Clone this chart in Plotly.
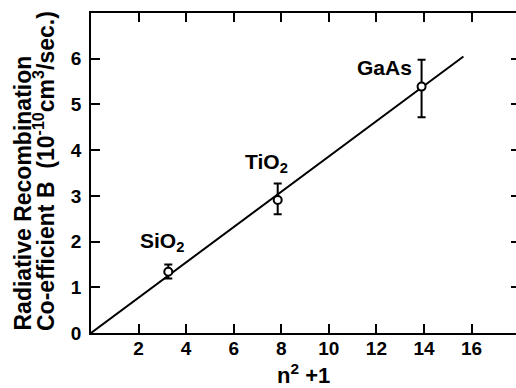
import plotly.graph_objects as go

# Data
materials = ["SiO<sub>2</sub>", "TiO<sub>2</sub>", "GaAs"]
n2_plus_1 = [3.25, 7.85, 13.9]
coeff_b = [1.34, 2.91, 5.39]
err_top = [1.50, 3.27, 5.98]
err_bottom = [1.19, 2.60, 4.72]

fit_x = [0, 15.66]
fit_y = [0, 6.05]

x_ticks = [2, 4, 6, 8, 10, 12, 14, 16]
y_ticks = [0, 1, 2, 3, 4, 5, 6]

label_x = [3.0, 7.4, 12.35]
label_y = [2.0, 3.72, 5.8]

FONT = "Liberation Sans, Arial, Helvetica, sans-serif"

err_plus = [t - v for t, v in zip(err_top, coeff_b)]
err_minus = [v - b for v, b in zip(coeff_b, err_bottom)]

fig = go.Figure()
fig.add_trace(go.Scatter(
    x=fit_x, y=fit_y, mode="lines",
    line=dict(color="black", width=2), showlegend=False, hoverinfo="skip"))
fig.add_trace(go.Scatter(
    x=n2_plus_1, y=coeff_b, mode="markers",
    marker=dict(symbol="circle", size=8, color="white",
                line=dict(color="black", width=2)),
    error_y=dict(type="data", array=err_plus, arrayminus=err_minus,
                 color="black", thickness=2, width=4),
    showlegend=False))
# dummy trace for right-side ticks
fig.add_trace(go.Scatter(x=[None], y=[None], yaxis="y2", showlegend=False))

for name, lx, ly in zip(materials, label_x, label_y):
    fig.add_annotation(x=lx, y=ly, text=name, showarrow=False,
                       font=dict(family=FONT, size=21, color="black", weight="bold"),
                       xanchor="center", yanchor="middle")

# y-axis title (two lines, both starting at the bottom of the axis)
fig.add_annotation(xref="paper", yref="paper", x=(22 - 91) / 425, y=0,
                   text="Radiative Recombination", textangle=-90, showarrow=False,
                   font=dict(family=FONT, size=23, color="black", weight="bold"),
                   xanchor="center", yanchor="bottom")
fig.add_annotation(xref="paper", yref="paper", x=(44 - 91) / 425, y=0,
                   text="Co-efficient B  (10<sup>-10</sup>cm<sup>3</sup>/sec.)",
                   textangle=-90, showarrow=False,
                   font=dict(family=FONT, size=23, color="black", weight="bold"),
                   xanchor="center", yanchor="bottom")
# x-axis title
fig.add_annotation(xref="paper", yref="paper", x=(303 - 91) / 425, y=-(374 - 333) / 320,
                   text="n<sup>2</sup> +1", showarrow=False,
                   font=dict(family=FONT, size=22, color="black", weight="bold"),
                   xanchor="center", yanchor="middle")

tickfont = dict(family=FONT, size=19, color="black", weight="bold")
fig.update_layout(
    width=516, height=388,
    margin=dict(l=91, r=0, t=13, b=55),
    paper_bgcolor="white", plot_bgcolor="white",
    xaxis=dict(range=[0, 17.87], tickvals=x_ticks, ticks="inside", ticklen=9,
               tickwidth=1.5, tickcolor="black", showline=True, linecolor="black",
               linewidth=1.5, mirror="ticks", showgrid=False, zeroline=False,
               tickfont=tickfont, ticklabelstandoff=-3),
    yaxis=dict(range=[0, 7], tickvals=y_ticks, ticks="inside", ticklen=9,
               tickwidth=1.5, tickcolor="black", showline=True, linecolor="black",
               linewidth=1.5, mirror=False, showgrid=False, zeroline=False,
               tickfont=tickfont, ticklabelstandoff=4),
    yaxis2=dict(range=[0, 7], tickvals=y_ticks[1:], ticks="inside", ticklen=5,
                tickwidth=1.5, tickcolor="black", showline=False, overlaying="y",
                side="right", showticklabels=False, showgrid=False, zeroline=False),
)

fig.write_html("out.html", config={"displayModeBar": False},
               post_script="document.body.style.margin='0';")
